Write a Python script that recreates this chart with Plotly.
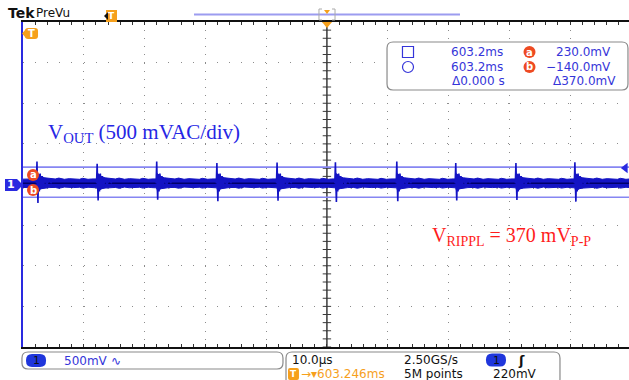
import numpy as np
import plotly.graph_objects as go

# ── Palette ───────────────────────────────────────────────────────────────────
TRACE   = "#1414c4"
CORE    = "#00006a"
CURSOR  = "#8686f2"
READOUT = "#3535d9"
CH1     = "#2a2ae0"
ORANGE  = "#f6a01c"
ABRED   = "#ee4a22"
GRID    = "#8c8c8c"
FONT    = "DejaVu Sans"
SERIF   = "Liberation Serif"

# ── Scope settings (10 µs/div, 500 mV/div) ────────────────────────────────────
X_RANGE = [-50.0, 49.7]          # µs
Y_RANGE = [-1984, 2016]          # mV, ground sits a hair below centre
CURSOR_A_MV = 230
CURSOR_B_MV = -140
TRIG_LEVEL_MV = 220
TRACE_DC_MV = 30

# ── Waveform ──────────────────────────────────────────────────────────────────
SPIKE_T_US    = [-47.7, -37.8, -28.0, -18.1, -8.2, 1.4, 11.5, 21.2, 31.1, 40.8]
SPIKE_PEAK_MV = [300, 270, 300, 280, 285, 290, 300, 280, 280, 290]
SPIKE_DIP_MV  = [-210, -180, -170, -190, -185, -200, -190, -180, -175, -195]

SPIKE_OFFSET_US = [-0.10, 0.0, 0.08, 0.16, 0.26, 0.38, 0.52, 0.68, 0.85, 1.05, 1.3, 1.6, 2.0, 2.4]
SPIKE_SHAPE_MV  = [30, 290, 20, -190, 140, -70, 150, -30, 120, -10, 95, 10, 80, 30]

BAND_OFFSET_US = [0.0, 0.12, 0.4, 0.8, 1.3, 2.0, 3.0, 3.6, 4.5, 5.3, 6.0, 7.0, 7.5, 8.4, 9.0, 9.8]
BAND_UPPER_MV  = [85, 150, 130, 110, 98, 90, 84, 95, 80, 88, 86, 80, 92, 80, 84, 82]
BAND_LOWER_MV  = [-25, -60, -45, -35, -28, -22, -20, -30, -16, -24, -22, -18, -28, -18, -22, -20]

# ── Pixel → paper helpers (plot area 23..629 x 22..347) ───────────────────────
L, R, T, B = 23, 629, 22, 347


def px(x):
    return (x - L) / (R - L)


def py(y):
    return (B - y) / (B - T)


def path(points, close=True):
    s = "M " + " L ".join(f"{px(x):.4f},{py(y):.4f}" for x, y in points)
    return s + (" Z" if close else "")


def rrect(x0, y0, x1, y1, r):
    p = lambda x, y: f"{px(x):.4f},{py(y):.4f}"
    return (f"M {p(x0 + r, y0)} L {p(x1 - r, y0)} Q {p(x1, y0)} {p(x1, y0 + r)} "
            f"L {p(x1, y1 - r)} Q {p(x1, y1)} {p(x1 - r, y1)} "
            f"L {p(x0 + r, y1)} Q {p(x0, y1)} {p(x0, y1 - r)} "
            f"L {p(x0, y0 + r)} Q {p(x0, y0)} {p(x0 + r, y0)} Z")


# ── Build traces ──────────────────────────────────────────────────────────────
band_t, band_hi, band_lo = [X_RANGE[0]], [BAND_UPPER_MV[-1]], [BAND_LOWER_MV[-1]]
nxt = SPIKE_T_US[1:] + [X_RANGE[1] + 20]
for s, n in zip(SPIKE_T_US, nxt):
    for off, hi, lo in zip(BAND_OFFSET_US, BAND_UPPER_MV, BAND_LOWER_MV):
        if s + off < n:
            band_t.append(s + off)
            band_hi.append(hi)
            band_lo.append(lo)

sx, sy = [], []
for s, pk, dp in zip(SPIKE_T_US, SPIKE_PEAK_MV, SPIKE_DIP_MV):
    vals = list(SPIKE_SHAPE_MV)
    vals[1], vals[3] = pk, dp
    sx += [s + o for o in SPIKE_OFFSET_US] + [None]
    sy += vals + [None]

fig = go.Figure()

# centre cross of the graticule
y_mid = sum(Y_RANGE) / 2
y_ticks = np.arange(Y_RANGE[0], Y_RANGE[1] + 1, 100)
x_ticks = np.arange(-50, 50.1, 2)
fig.add_trace(go.Scatter(x=[0, 0], y=Y_RANGE, mode="lines",
                         line=dict(color="#3a3a3a", width=1.5), hoverinfo="skip"))
fig.add_trace(go.Scatter(
    x=[0] * len(y_ticks), y=y_ticks, mode="markers",
    marker=dict(symbol="line-ew", size=6, line=dict(width=1, color="#3a3a3a")),
    hoverinfo="skip"))
fig.add_trace(go.Scatter(
    x=x_ticks, y=[y_mid] * len(x_ticks), mode="markers",
    marker=dict(symbol="line-ns", size=6, line=dict(width=1, color="#3a3a3a")),
    hoverinfo="skip"))

# cursors
for yv in (CURSOR_A_MV, CURSOR_B_MV):
    fig.add_trace(go.Scatter(x=X_RANGE, y=[yv, yv], mode="lines",
                             line=dict(color=CURSOR, width=1.6), hoverinfo="skip"))

# noise band + spikes
fig.add_trace(go.Scatter(x=band_t, y=band_lo, mode="lines",
                         line=dict(color=TRACE, width=1), hoverinfo="skip"))
fig.add_trace(go.Scatter(x=band_t, y=band_hi, mode="lines", fill="tonexty",
                         fillcolor=TRACE, line=dict(color=TRACE, width=1),
                         hoverinfo="skip"))
fig.add_trace(go.Scatter(x=[band_t[0], X_RANGE[1]], y=[TRACE_DC_MV] * 2, mode="lines",
                         line=dict(color=CORE, width=1.5), hoverinfo="skip"))
fig.add_trace(go.Scatter(x=sx, y=sy, mode="lines", connectgaps=False,
                         line=dict(color=TRACE, width=1.6), hoverinfo="skip"))

# trigger level arrow on the right
fig.add_trace(go.Scatter(x=[X_RANGE[1] - 0.6], y=[TRIG_LEVEL_MV], mode="markers",
                         marker=dict(symbol="triangle-left", size=9, color=CH1),
                         cliponaxis=False, hoverinfo="skip"))

fig.update_layout(
    width=629, height=380,
    margin=dict(l=L, r=629 - R, t=T, b=380 - B),
    paper_bgcolor="white", plot_bgcolor="white",
    showlegend=False,
    font=dict(family=FONT, size=12, color=READOUT),
    xaxis=dict(range=X_RANGE, tickvals=list(range(-40, 50, 10)),
               showgrid=True, gridcolor=GRID, gridwidth=1, griddash="1px,7.12px",
               zeroline=False, showticklabels=False,
               showline=True, linecolor="#111", linewidth=1.5, mirror="ticks",
               ticks="inside", ticklen=3, tickcolor="#333",
               minor=dict(dtick=2, tick0=0, ticks="inside", ticklen=3,
                          tickcolor="#333", showgrid=False)),
    yaxis=dict(range=Y_RANGE,
               tickvals=list(np.arange(Y_RANGE[0] + 500, Y_RANGE[1], 500)),
               showgrid=True, gridcolor=GRID, gridwidth=1, griddash="1px,11.12px",
               zeroline=False, showticklabels=False, ticks="",
               showline=True, linecolor=CH1, linewidth=2, mirror=False),
)

shapes = []


def label(x, y, text, color=READOUT, size=12, anchor="left", family=FONT, **kw):
    fig.add_annotation(x=px(x), y=py(y), xref="paper", yref="paper", text=text,
                       showarrow=False, xanchor=anchor, yanchor="middle",
                       font=dict(family=family, size=size, color=color), **kw)


def shape_path(d, fill=None, line=None, width=1):
    shapes.append(dict(type="path", path=d, xref="paper", yref="paper",
                       fillcolor=fill or "rgba(0,0,0,0)",
                       line=dict(color=line or "rgba(0,0,0,0)", width=width)))


# ── Header ────────────────────────────────────────────────────────────────────
label(6, 13, "<b>Tek</b>", color="#111", size=14)
label(34, 13, "PreVu", color="#111", size=12)
shape_path(path([(106, 10), (117, 10), (117, 22), (106, 22)]), fill=ORANGE)
shape_path(path([(104, 16), (108, 12), (108, 20)]), fill="#111")
label(111.5, 16, "<b>T</b>", color="white", size=9, anchor="center")
shape_path(path([(194, 14.5), (460, 14.5)], close=False), line="#9c9cf0", width=2)
shape_path(path([(322, 9), (319, 9), (319, 20), (322, 20)], close=False), line="#aaa", width=1)
shape_path(path([(332, 9), (335, 9), (335, 20), (332, 20)], close=False), line="#aaa", width=1)
shape_path(path([(324, 10), (330, 10), (327, 14)]), fill=ORANGE)
shape_path(path([(322, 22), (332, 22), (327, 28)]), fill=ORANGE)

# orange trigger-position flag inside the plot
shape_path(rrect(25, 28, 38, 39, 3), fill=ORANGE)
shape_path(path([(22, 33.5), (26, 29), (26, 38)]), fill=ORANGE)
label(31.5, 33.5, "<b>T</b>", color="white", size=10, anchor="center")

# channel 1 ground marker
shape_path(path([(5, 179), (17, 179), (23, 185), (17, 191), (5, 191)]), fill=CH1)
label(11, 185, "<b>1</b>", color="white", size=11, anchor="center")

# cursor a / b tags
for yy, t in ((175, "a"), (190, "b")):
    shapes.append(dict(type="circle", xref="paper", yref="paper",
                       x0=px(27), x1=px(39), y0=py(yy + 6), y1=py(yy - 6),
                       fillcolor=ABRED, line=dict(width=0)))
    label(33, yy, f"<b>{t}</b>", color="white", size=10, anchor="center")

# ── Cursor readout box ────────────────────────────────────────────────────────
shape_path(rrect(387, 42, 628, 90, 6), fill="white", line="#8a8a8a", width=1.2)
shape_path(path([(402.5, 46.5), (413.5, 46.5), (413.5, 57.5), (402.5, 57.5)]),
           line=READOUT, width=1.2)
shapes.append(dict(type="circle", xref="paper", yref="paper",
                   x0=px(402.5), x1=px(413.5), y0=py(72.5), y1=py(61.5),
                   line=dict(color=READOUT, width=1.2)))
label(505, 52, "603.2ms", anchor="right")
label(505, 67, "603.2ms", anchor="right")
label(507, 81, "Δ0.000 s", anchor="right")
label(613, 52, "230.0mV", anchor="right")
label(613, 67, "−140.0mV", anchor="right")
label(618, 81, "Δ370.0mV", anchor="right")
for yy, t in ((52, "a"), (67, "b")):
    shapes.append(dict(type="circle", xref="paper", yref="paper",
                       x0=px(523.5), x1=px(535.5), y0=py(yy + 6), y1=py(yy - 6),
                       fillcolor=ABRED, line=dict(width=0)))
    label(529.5, yy, f"<b>{t}</b>", color="white", size=10, anchor="center")

# ── Annotations on the trace ──────────────────────────────────────────────────
label(46, 133, "V<sub>OUT</sub> (500 mVAC/div)", color="#2626e4", size=21, family=SERIF)
label(430, 236, "V<sub>RIPPL</sub> = 370 mV<sub>P-P</sub>", color="#ff1c1c", size=20,
      family=SERIF)

# ── Bottom status bar ─────────────────────────────────────────────────────────
shape_path(rrect(22, 352, 283, 369, 6), fill="white", line="#8a8a8a", width=1.2)
shape_path(rrect(286, 352, 560, 385, 6), fill="white", line="#8a8a8a", width=1.2)
shape_path(rrect(26, 354, 46, 367, 6), fill="#1f36dc")
label(36, 360.5, "1", color="#111", size=11, anchor="center")
label(62, 360.5, "500mV", color=READOUT)
label(109, 360.5, "∿", color=READOUT)

label(290, 360, "10.0µs", color="#111")
label(402, 360, "2.50GS/s", color="#111")
shape_path(rrect(486, 353.5, 506, 366.5, 6), fill="#1f36dc")
label(496, 360, "1", color="#111", size=11, anchor="center")
label(516, 360, "<b>ʃ</b>", color="#111", size=13)

shape_path(rrect(288, 368, 299, 380, 2), fill=ORANGE)
label(293.5, 374, "<b>T</b>", color="white", size=9, anchor="center")
label(299, 374, "→▾603.246ms", color=ORANGE)
label(402, 374, "5M points", color="#111")
label(491, 374, "220mV", color="#111")

fig.update_layout(shapes=shapes)
fig.write_html("out.html", config={"displayModeBar": False},
               post_script="document.body.style.margin='0';")
